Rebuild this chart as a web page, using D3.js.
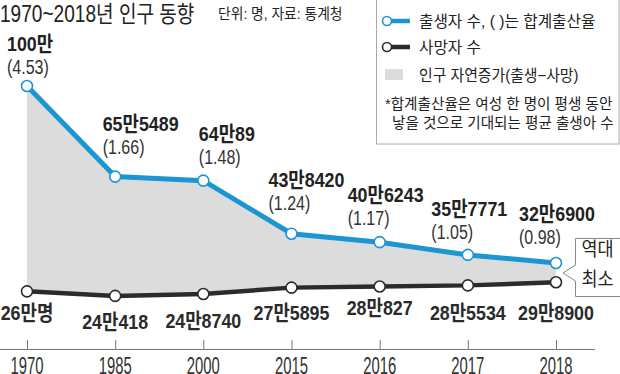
<!DOCTYPE html>
<html>
<head>
<meta charset="utf-8">
<script src="https://cdn.jsdelivr.net/npm/d3@7"></script>
<style>
  body { margin: 0; background: #fff; }
  svg text { font-family: "Liberation Sans", "Noto Sans CJK KR", sans-serif; fill: #222; }
</style>
</head>
<body>
<script>
const years = ["1970", "1985", "2000", "2015", "2016", "2017", "2018"];
// 출생자 수 (만 명)
const births = [100, 65.5489, 64.0089, 43.8420, 40.6243, 35.7771, 32.6900];
const birthLabels = ["100만", "65만5489", "64만89", "43만8420", "40만6243", "35만7771", "32만6900"];
const fertility = ["4.53", "1.66", "1.48", "1.24", "1.17", "1.05", "0.98"];
// 사망자 수 (만 명)
const deaths = [26, 24.0418, 24.8740, 27.5895, 28.0827, 28.5534, 29.8900];
const deathLabels = ["26만명", "24만418", "24만8740", "27만5895", "28만827", "28만5534", "29만8900"];

const w = 620;
const h = 374;
const blue = "#1b96d3";
const dark = "#2b2b2b";

// label placement offsets
const birthDx = [-20, -12.5, -4.5, -23, -32, -36.5, -37];
const birthDy = [-35, -45.5, -40, -47, -40, -39, -42];
const deathDy = [29, 33, 34, 32, 28.5, 35, 38];

const svg = d3.select("body")
              .append("svg")
              .attr("width", w)
              .attr("height", h)

// text with horizontal squeeze (condensed look)
function txt(g, x, y, str, size, opt) {
  opt = opt || {};
  return g.append("text")
          .attr("transform", "translate(" + x + "," + y + ") scale(" + (opt.sx || 1) + ",1)")
          .attr("text-anchor", opt.anchor || "start")
          .style("font-size", size + "px")
          .style("font-weight", opt.weight || "normal")
          .style("fill", opt.fill || "#222")
          .text(str)
}

const x = d3.scalePoint()
            .domain(years)
            .range([27, 556])

const y = d3.scaleLinear()
            .domain([0, 100])
            .range([349, 86])

// 사망자 선은 별도 축척
const y2 = d3.scaleLinear()
             .domain([24, 30])
             .range([296, 282])

// title
txt(svg, 0, 22, "1970~2018년 인구 동향", 23, { sx: 0.83 })
txt(svg, 218, 19, "단위: 명, 자료: 통계청", 15, { sx: 0.92 })

// area between lines
const rows = years.map((yr, i) => ({ yr, b: births[i], d: deaths[i] }));

svg.append("path")
   .datum(rows)
   .attr("fill", "#dcdcdd")
   .attr("d", d3.area()
                .x(d => x(d.yr))
                .y0(d => y2(d.d))
                .y1(d => y(d.b)))

// axis
const xAxis = d3.axisTop(x).tickSize(9).tickFormat("");
const ax = svg.append("g")
              .attr("transform", "translate(0," + 349 + ")")
              .call(xAxis)
ax.select(".domain").remove()
ax.selectAll("line").attr("stroke", "#777")
svg.append("line")
   .attr("x1", 0).attr("x2", 595)
   .attr("y1", 349.5).attr("y2", 349.5)
   .attr("stroke", "#777")

years.forEach(yr => {
  txt(svg, x(yr), 373.5, yr, 24, { sx: 0.62, anchor: "middle", fill: "#333" })
})

// lines
svg.append("path")
   .datum(rows)
   .attr("fill", "none")
   .attr("stroke", dark)
   .attr("stroke-width", 4.5)
   .attr("d", d3.line().x(d => x(d.yr)).y(d => y2(d.d)))

svg.append("path")
   .datum(rows)
   .attr("fill", "none")
   .attr("stroke", blue)
   .attr("stroke-width", 5)
   .attr("d", d3.line().x(d => x(d.yr)).y(d => y(d.b)))

svg.selectAll(".bdot")
   .data(rows)
   .enter()
   .append("circle")
   .attr("cx", d => x(d.yr))
   .attr("cy", d => y(d.b))
   .attr("r", 5.5)
   .attr("fill", "#fff")
   .attr("stroke", blue)
   .attr("stroke-width", 1.6)

svg.selectAll(".ddot")
   .data(rows)
   .enter()
   .append("circle")
   .attr("cx", d => x(d.yr))
   .attr("cy", d => y2(d.d))
   .attr("r", 5.5)
   .attr("fill", "#fff")
   .attr("stroke", dark)
   .attr("stroke-width", 1.6)

// birth labels
rows.forEach((d, i) => {
  const lx = x(d.yr) + birthDx[i];
  const ly = y(d.b) + birthDy[i];
  txt(svg, lx, ly, birthLabels[i], 21, { sx: 0.85, weight: "bold" })
  txt(svg, lx, ly + 23, "(" + fertility[i] + ")", 20, { sx: 0.8, fill: "#333" })
})

// death labels
rows.forEach((d, i) => {
  txt(svg, x(d.yr), y2(d.d) + deathDy[i], deathLabels[i], 21, { sx: 0.85, weight: "bold", anchor: "middle", fill: "#2a2a2a" })
})

// callout 역대 최소
const cx = x("2018");
svg.append("path")
   .attr("d", "M575.5,238.5 H621 V296.5 H575.5 V281 L" + (cx + 7) + "," + (y(births[6]) + 10) + " L575.5,265 Z")
   .attr("fill", "#fff")
   .attr("stroke", "#888")
   .attr("stroke-width", 1)
txt(svg, 597.5, 256, "역대", 19, { sx: 0.92, anchor: "middle" })
txt(svg, 597.5, 286, "최소", 19, { sx: 0.92, anchor: "middle" })

// legend
const lg = svg.append("g").attr("id", "legend")
lg.append("rect")
  .attr("x", 376.5).attr("y", -1)
  .attr("width", 242.5).attr("height", 145)
  .attr("fill", "#fff")
  .attr("stroke", "#aaa")

const legendItems = [
  { color: blue, text: "출생자 수, ( )는 합계출산율", y: 21 },
  { color: dark, text: "사망자 수", y: 47 }
];
legendItems.forEach(it => {
  lg.append("line")
    .attr("x1", 386).attr("x2", 410)
    .attr("y1", it.y).attr("y2", it.y)
    .attr("stroke", it.color).attr("stroke-width", 4.5)
  lg.append("circle")
    .attr("cx", 387).attr("cy", it.y).attr("r", 4.5)
    .attr("fill", "#fff").attr("stroke", it.color).attr("stroke-width", 1.6)
  txt(lg, 419, it.y + 6, it.text, 16, { sx: 0.98 })
})
lg.append("rect")
  .attr("x", 385).attr("y", 69)
  .attr("width", 18).attr("height", 11)
  .attr("fill", "#dcdcdd")
txt(lg, 419, 81, "인구 자연증가(출생−사망)", 16, { sx: 0.93 })
txt(lg, 385, 109, "*합계출산율은 여성 한 명이 평생 동안", 14.6)
txt(lg, 392, 128, "낳을 것으로 기대되는 평균 출생아 수", 14.6)
</script>
</body>
</html>
